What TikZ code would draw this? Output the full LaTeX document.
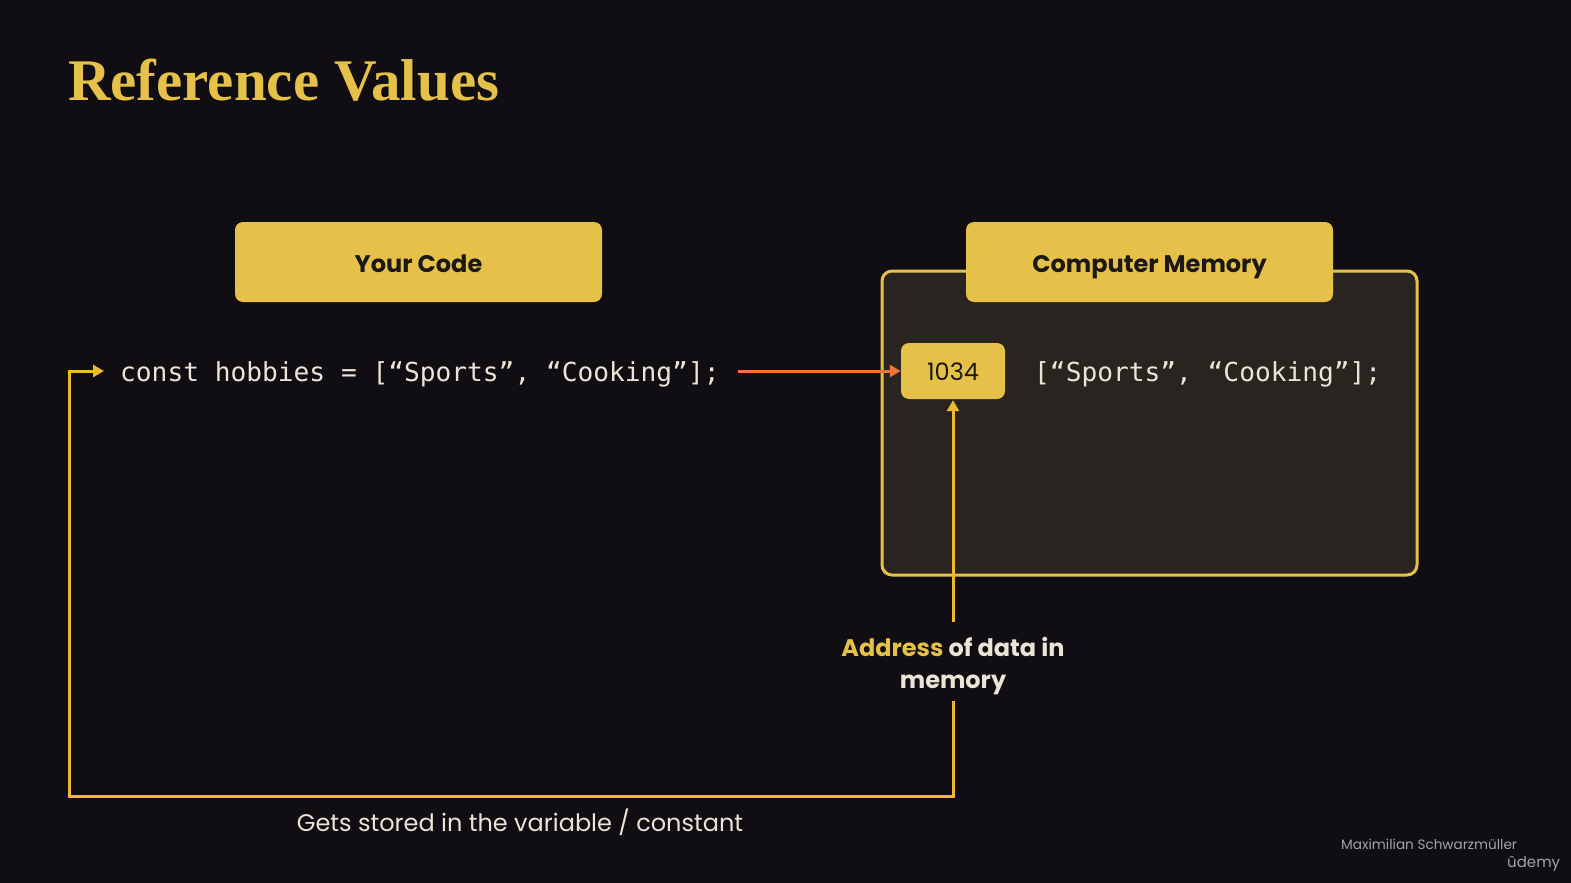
\documentclass[tikz,border=0pt]{standalone}
\usepackage{fontspec}
\setmainfont{Poppins}
\newfontfamily\slabfont{Liberation Serif}
\newfontfamily\codefont{DejaVu Sans Mono}
\usetikzlibrary{arrows.meta}

\definecolor{bgdark}{RGB}{16,13,19}
\definecolor{gold}{RGB}{229,193,74}
\definecolor{linegold}{RGB}{236,186,42}
\definecolor{memfill}{RGB}{41,36,31}
\definecolor{cream}{RGB}{234,229,214}
\definecolor{inkdark}{RGB}{28,24,22}
\definecolor{orangeline}{RGB}{236,116,52}
\definecolor{markgray}{RGB}{165,163,168}

\tikzset{
  headbox/.style={fill=gold, rounded corners=8pt, minimum width=367pt, minimum height=80pt,
    text=inkdark, font=\fontsize{24}{28}\selectfont\bfseries, inner sep=0pt,
    text height=20pt, text depth=0pt},
  memframe/.style={draw=gold, line width=3pt, fill=memfill, rounded corners=10pt,
    minimum width=535pt, minimum height=304pt, inner sep=0pt},
  addrbox/.style={fill=gold, rounded corners=8pt, minimum width=104pt, minimum height=56pt,
    text=inkdark, font=\fontsize{24}{28}\selectfont, inner sep=0pt,
    text height=18pt, text depth=0pt},
  codetext/.style={text=cream, font=\codefont\fontsize{26.2}{30}\selectfont, inner sep=0pt},
  goldline/.style={draw=linegold, line width=3pt},
  goldarrow/.style={goldline, -{Triangle[length=11pt,width=12pt]}},
  orangearrow/.style={draw=orangeline, line width=3pt, -{Triangle[length=11pt,width=12pt]}},
  caption/.style={text=cream, inner sep=0pt},
}

\begin{document}
\begin{tikzpicture}[x=1pt,y=-1pt]
  % page and background
  \fill[bgdark] (0,0) rectangle (1571,883);
  \useasboundingbox (0,0) rectangle (1571,883);

  % title
  \node (title) [anchor=base west, inner sep=0pt, text=gold,
    font=\slabfont\bfseries\fontsize{59}{64}\selectfont] at (68,100) {Reference Values};

  % left column: source code
  \node (yourcode) [headbox] at (418.5,262) {Your Code};
  \node (code) [codetext, anchor=base west] at (120,381) {const hobbies = [“Sports”, “Cooking”];};

  % right column: memory
  \node (memory) [memframe] at (1149.5,423) {};
  \node (cmem) [headbox] at (1149.5,262) {Computer Memory};
  \node (addr) [addrbox] at (953,371) {1034};
  \node (value) [codetext, anchor=base west] at (1034,381) {[“Sports”, “Cooking”];};

  % address label
  \node (label) [caption, align=center, font=\fontsize{24}{32}\selectfont\bfseries] at (953,666)
    {{\color{gold}Address} of data in\\memory};

  % bottom caption
  \node (stored) [caption, font=\fontsize{24}{28}\selectfont] at (520,822)
    {Gets stored in the variable / constant};

  % connectors
  \coordinate (corner) at (69,796);
  \coordinate (loopin) at (104,371);
  \draw[orangearrow, shorten <=18pt] (code.east |- addr.west) -- (addr.west);
  \draw[goldarrow, shorten <=15pt, shorten >=1pt] (label.north) -- (addr.south);
  \draw[goldarrow, shorten <=6pt] (label.south) -- (label.south |- corner) -- (corner)
    -- (corner |- loopin) -- (loopin);

  % credits
  \node (author) [anchor=base west, inner sep=0pt, text=markgray, font=\fontsize{13.6}{15}\selectfont]
    at (1341,849) {Maximilian Schwarzmüller};
  \node (brand) [anchor=base west, inner sep=0pt, text=markgray, font=\fontsize{15}{17}\selectfont]
    at (1507,867) {ûdemy};
\end{tikzpicture}
\end{document}
